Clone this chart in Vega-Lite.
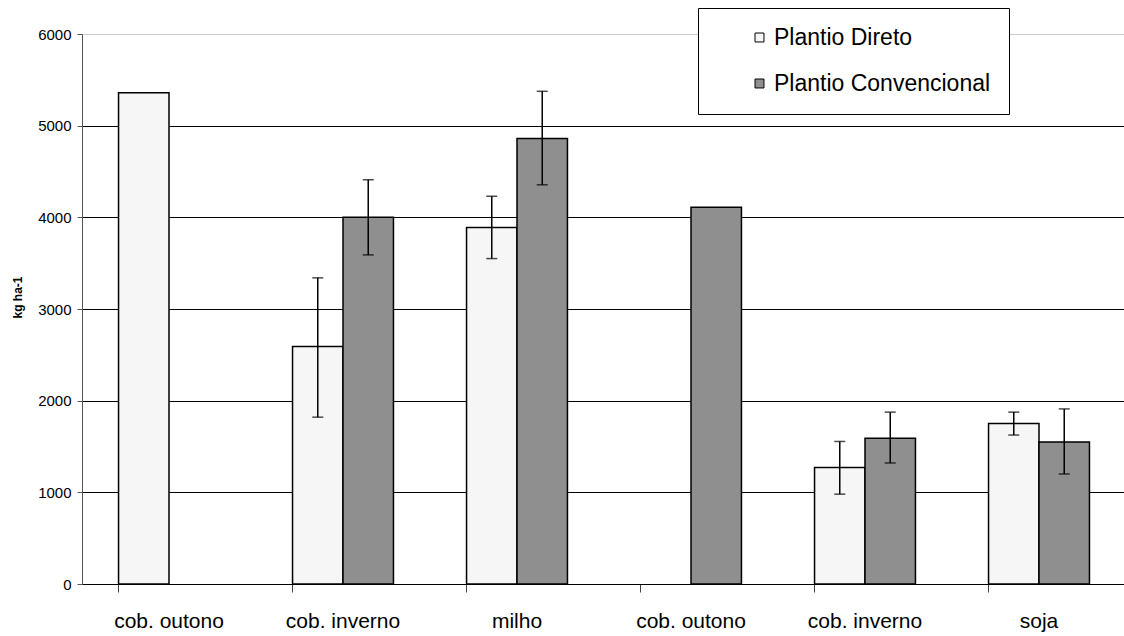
{
  "$schema": "https://vega.github.io/schema/vega-lite/v6.json",
  "width": 1044,
  "height": 550,
  "autosize": "none",
  "padding": {"left": 82, "top": 34, "right": 0, "bottom": 52},
  "background": "white",
  "config": {"view": {"stroke": null}, "font": "Liberation Sans"},
  "data": {
    "values": [
      {"cat": "cob. outono|1", "sistema": "Plantio Direto", "value": 5360},
      {"cat": "cob. inverno|2", "sistema": "Plantio Direto", "value": 2590, "lo": 1820, "hi": 3340},
      {"cat": "cob. inverno|2", "sistema": "Plantio Convencional", "value": 4000, "lo": 3590, "hi": 4410},
      {"cat": "milho|3", "sistema": "Plantio Direto", "value": 3890, "lo": 3550, "hi": 4230},
      {"cat": "milho|3", "sistema": "Plantio Convencional", "value": 4860, "lo": 4355, "hi": 5375},
      {"cat": "cob. outono|4", "sistema": "Plantio Convencional", "value": 4110},
      {"cat": "cob. inverno|5", "sistema": "Plantio Direto", "value": 1270, "lo": 980, "hi": 1555},
      {"cat": "cob. inverno|5", "sistema": "Plantio Convencional", "value": 1590, "lo": 1320, "hi": 1875},
      {"cat": "soja|6", "sistema": "Plantio Direto", "value": 1750, "lo": 1625, "hi": 1875},
      {"cat": "soja|6", "sistema": "Plantio Convencional", "value": 1550, "lo": 1200, "hi": 1910}
    ]
  },
  "encoding": {
    "x": {
      "field": "cat",
      "type": "nominal",
      "sort": null,
      "scale": {
        "domain": ["cob. outono|1", "cob. inverno|2", "milho|3", "cob. outono|4", "cob. inverno|5", "soja|6"],
        "paddingInner": 0.42,
        "paddingOuter": 0.21
      },
      "axis": {
        "title": null,
        "labelAngle": 0,
        "labelExpr": "split(datum.value, '|')[0]",
        "labelFontSize": 21,
        "labelColor": "black",
        "labelPadding": 18,
        "bandPosition": 0,
        "tickSize": 8,
        "tickColor": "#444",
        "domainColor": "black",
        "grid": false
      }
    },
    "xOffset": {
      "field": "sistema",
      "type": "nominal",
      "scale": {"domain": ["Plantio Direto", "Plantio Convencional"], "paddingInner": 0, "paddingOuter": 0}
    }
  },
  "layer": [
    {
      "mark": {"type": "bar", "stroke": "black", "strokeWidth": 1.5},
      "encoding": {
        "y": {
          "field": "value",
          "type": "quantitative",
          "scale": {"domain": [0, 6000], "nice": false},
          "axis": {
            "values": [0, 1000, 2000, 3000, 4000, 5000, 6000],
            "format": "d",
            "title": "kg ha-1",
            "titleFontSize": 12,
            "titleFontWeight": "bold",
            "titleColor": "black",
            "titlePadding": 13,
            "titleY": 263,
            "labelFontSize": 15,
            "labelColor": "black",
            "labelPadding": 6,
            "tickSize": 5,
            "tickColor": "#555",
            "domainColor": "#555",
            "grid": true,
            "gridColor": {"condition": {"test": "datum.value === 6000", "value": "#cccccc"}, "value": "black"},
            "gridWidth": 1
          }
        },
        "color": {
          "field": "sistema",
          "type": "nominal",
          "scale": {"domain": ["Plantio Direto", "Plantio Convencional"], "range": ["#f6f6f6", "#8f8f8f"]},
          "legend": {
            "orient": "none",
            "legendX": 616,
            "legendY": -26,
            "title": null,
            "strokeColor": "black",
            "fillColor": "white",
            "padding": 18,
            "symbolOffset": 32,
            "symbolType": "square",
            "symbolSize": 80,
            "symbolStrokeColor": "black",
            "symbolStrokeWidth": 1,
            "labelFontSize": 23,
            "labelLimit": 400,
            "labelColor": "black",
            "labelOffset": 3,
            "rowPadding": 22
          }
        }
      }
    },
    {
      "transform": [{"filter": "datum.lo != null"}],
      "mark": {"type": "rule", "color": "black", "strokeWidth": 1.5},
      "encoding": {
        "y": {"field": "lo", "type": "quantitative"},
        "y2": {"field": "hi"}
      }
    },
    {
      "transform": [{"filter": "datum.lo != null"}],
      "mark": {"type": "tick", "color": "black", "thickness": 1.5, "size": 11},
      "encoding": {
        "y": {"field": "lo", "type": "quantitative"}
      }
    },
    {
      "transform": [{"filter": "datum.hi != null"}],
      "mark": {"type": "tick", "color": "black", "thickness": 1.5, "size": 11},
      "encoding": {
        "y": {"field": "hi", "type": "quantitative"}
      }
    }
  ]
}
